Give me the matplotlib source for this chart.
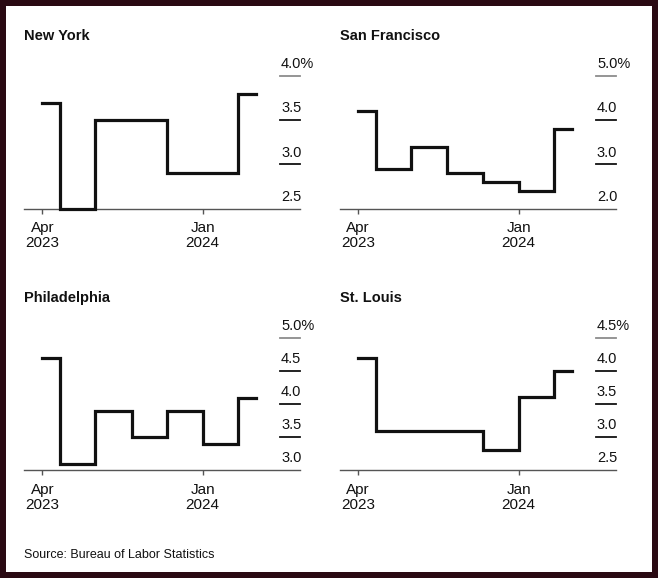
import pandas as pd
import matplotlib
matplotlib.use("Agg")
import matplotlib.pyplot as plt
from matplotlib.patches import Rectangle

BORDER = "#2a0a13"
INK = "#111111"
AXISC = "#555555"
TOPGRID = "#8c8c8c"

plt.rcParams.update({
    "font.family": ["Liberation Sans", "DejaVu Sans"],
    "text.color": INK,
    "xtick.color": AXISC,
    "xtick.labelcolor": INK,
})

# ---- data: bimonthly CPI (year-over-year %), steps held until next reading
dates = ["2023-04-01", "2023-05-01", "2023-07-01", "2023-09-01",
         "2023-11-01", "2024-01-01", "2024-03-01"]
end_date = "2024-04-01"

new_york      = [3.7, 2.5, 3.5, 3.5, 2.9, 2.9, 3.8]
san_francisco = [4.2, 2.9, 3.4, 2.8, 2.6, 2.4, 3.8]
philadelphia  = [4.7, 3.1, 3.9, 3.5, 3.9, 3.4, 4.1]
st_louis      = [4.2, 3.1, 3.1, 3.1, 2.8, 3.6, 4.0]

ny_ticks  = [2.5, 3.0, 3.5, 4.0]
sf_ticks  = [2.0, 3.0, 4.0, 5.0]
ph_ticks  = [3.0, 3.5, 4.0, 4.5, 5.0]
stl_ticks = [2.5, 3.0, 3.5, 4.0, 4.5]

x_ticks = ["2023-04-01", "2024-01-01"]
x_tick_labels = ["Apr\n2023", "Jan\n2024"]

panels = [
    ("New York", new_york, ny_ticks),
    ("San Francisco", san_francisco, sf_ticks),
    ("Philadelphia", philadelphia, ph_ticks),
    ("St. Louis", st_louis, stl_ticks),
]

# ---- layout in pixels (left, top, right, bottom) and title baselines
W, H = 658, 578
boxes = [(24.3, 76, 300, 208.7), (340, 76, 616, 208.7),
         (24.3, 338.3, 300, 470.3), (340, 337.7, 616, 470.3)]
title_y = [40, 40, 302, 301.5]

fig = plt.figure(figsize=(W / 100, H / 100), dpi=100)
fig.patch.set_facecolor(BORDER)
fig.patches.append(Rectangle((6 / W, 6 / H), (652 - 6) / W, (572 - 6) / H,
                             transform=fig.transFigure, facecolor="white",
                             edgecolor="none", zorder=-10))

x = pd.to_datetime(dates + [end_date])
for (name, vals, yt), (l, t, r, b), ty in zip(panels, boxes, title_y):
    ax = fig.add_axes([l / W, 1 - b / H, (r - l) / W, (b - t) / H])
    ax.set_facecolor("none")
    y = vals + [vals[-1]]
    ax.plot(x, y, drawstyle="steps-post", color=INK, lw=2.3,
            solid_joinstyle="miter", zorder=3, clip_on=False)

    ax.set_xlim(pd.Timestamp("2023-03-01"), pd.Timestamp("2024-06-16"))
    ax.set_ylim(yt[0], yt[-1])
    for s in ("top", "right", "left"):
        ax.spines[s].set_visible(False)
    ax.spines["bottom"].set_color(AXISC)
    ax.spines["bottom"].set_linewidth(1)
    ax.set_yticks([])
    ax.set_xticks(pd.to_datetime(x_ticks))
    ax.set_xticklabels(x_tick_labels, fontsize=11, linespacing=1.1)
    ax.tick_params(axis="x", length=3.5, width=1, pad=5.5)

    # right-side labels sitting on short tick lines
    for i, v in enumerate(yt):
        if i > 0:
            ax.axhline(v, xmin=0.927, xmax=1.0, lw=1.3,
                       color=TOPGRID if i == len(yt) - 1 else INK,
                       clip_on=False)
        lab = f"{v:.1f}%" if i == len(yt) - 1 else f"{v:.1f}"
        ax.annotate(lab, xy=(0.931, v), xycoords=("axes fraction", "data"),
                    xytext=(0, 3.5), textcoords="offset points",
                    ha="left", va="bottom", fontsize=10.5, color=INK,
                    annotation_clip=False)

    fig.text(l / W, 1 - ty / H, name, fontsize=10.5, fontweight="bold",
             ha="left", va="baseline")

fig.text(24 / W, 1 - 558.3 / H, "Source: Bureau of Labor Statistics",
         fontsize=9, ha="left", va="baseline")

fig.savefig("out.png", dpi=100, facecolor=BORDER)
